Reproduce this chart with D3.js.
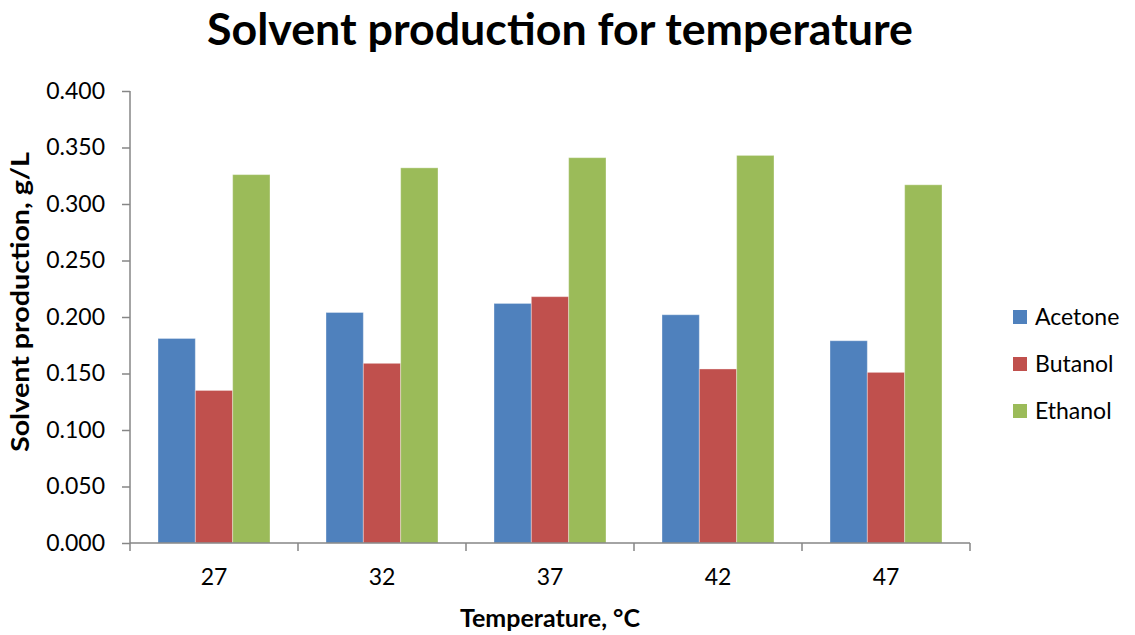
<!DOCTYPE html>
<html>
<head>
<meta charset="utf-8">
<script src="https://cdn.jsdelivr.net/npm/d3@7"></script>
<style>
  body { margin: 0; background: #fff; }
  text { font-family: Lato, "Open Sans", sans-serif; fill: #000; }
</style>
</head>
<body>
<div id="chart"></div>
<script>
// chart data
var temperatures = ["27", "32", "37", "42", "47"];
var seriesNames = ["Acetone", "Butanol", "Ethanol"];
var acetone = [0.181, 0.204, 0.212, 0.202, 0.179];
var butanol = [0.135, 0.159, 0.218, 0.154, 0.151];
var ethanol = [0.326, 0.332, 0.341, 0.343, 0.317];
var yTicks = [0, 0.05, 0.1, 0.15, 0.2, 0.25, 0.3, 0.35, 0.4];
var colors = ["#4F81BD", "#C0504D", "#9BBB59"];

var width = 1135, height = 635;
var margin = {top: 91, right: 165, bottom: 92, left: 130};
var plotW = width - margin.left - margin.right;
var plotH = height - margin.top - margin.bottom;

var table = temperatures.map(function(t, i) {
	return {temp: t, values: [acetone[i], butanol[i], ethanol[i]]};
});

var svg = d3.select("#chart").append("svg")
	.attr("width", width)
	.attr("height", height);

var g = svg.append("g")
	.attr("transform", "translate(" + margin.left + "," + margin.top + ")");

var x = d3.scaleBand()
	.domain(temperatures)
	.range([0, plotW])
	.paddingInner(0)
	.paddingOuter(0);

// excel style: gap width 50% of a bar on each side
var x1 = d3.scaleBand()
	.domain(seriesNames)
	.range([0, x.bandwidth() * 3 / 4.5]);

var y = d3.scaleLinear()
	.domain([0, 0.4])
	.range([plotH, 0]);

// bars
var groups = g.selectAll(".grp")
	.data(table)
	.enter().append("g")
	.attr("class", "grp")
	.attr("transform", function(d) {
		return "translate(" + (x(d.temp) + x.bandwidth() * 0.75 / 4.5) + ",0)";
	});

groups.selectAll("rect")
	.data(function(d) {
		return d.values.map(function(v, k) { return {name: seriesNames[k], v: v, k: k}; });
	})
	.enter().append("rect")
	.attr("x", function(d) { return x1(d.name); })
	.attr("y", function(d) { return y(d.v); })
	.attr("width", x1.bandwidth())
	.attr("height", function(d) { return plotH - y(d.v); })
	.style("fill", function(d) { return colors[d.k]; })
	.style("stroke", "rgba(255,255,255,0.35)")
	.style("stroke-width", 1);

// y axis
var yAxis = g.append("g")
	.attr("class", "y axis")
	.call(d3.axisLeft(y).tickValues(yTicks).tickFormat(d3.format(".3f")).tickSize(8).tickPadding(17));

// x axis
var xAxis = g.append("g")
	.attr("class", "x axis")
	.attr("transform", "translate(0," + plotH + ")")
	.call(d3.axisBottom(x).tickSize(0).tickPadding(26));

// x ticks sit between categories
xAxis.selectAll(".sep")
	.data(d3.range(temperatures.length + 1))
	.enter().append("line")
	.attr("class", "sep")
	.attr("x1", function(i) { return i * x.step(); })
	.attr("x2", function(i) { return i * x.step(); })
	.attr("y1", 0)
	.attr("y2", 8);

svg.selectAll(".axis path, .axis line")
	.style("stroke", "#868686")
	.style("stroke-width", 1.5);
svg.selectAll(".axis .domain").attr("d", null);
yAxis.append("line").attr("y1", 0).attr("y2", plotH).style("stroke", "#868686").style("stroke-width", 1.5);
xAxis.append("line").attr("x1", 0).attr("x2", plotW).style("stroke", "#868686").style("stroke-width", 1.5);

svg.selectAll(".axis text")
	.style("font-family", "Lato, sans-serif")
	.style("font-size", "23px")
	.style("fill", "#000");

// titles
svg.append("text")
	.attr("x", 560)
	.attr("y", 45)
	.attr("text-anchor", "middle")
	.attr("textLength", 706)
	.attr("lengthAdjust", "spacingAndGlyphs")
	.style("font-size", "44px")
	.style("font-weight", "bold")
	.text("Solvent production for temperature");

svg.append("text")
	.attr("transform", "translate(29,302) rotate(-90)")
	.attr("text-anchor", "middle")
	.attr("textLength", 300)
	.attr("lengthAdjust", "spacingAndGlyphs")
	.style("font-size", "24px")
	.style("font-weight", "bold")
	.text("Solvent production, g/L");

svg.append("text")
	.attr("x", 550)
	.attr("y", 627)
	.attr("text-anchor", "middle")
	.attr("textLength", 180)
	.attr("lengthAdjust", "spacingAndGlyphs")
	.style("font-size", "24px")
	.style("font-weight", "bold")
	.text("Temperature, °C");

// legend
var legend = svg.append("g")
	.attr("transform", "translate(1013,317)");

var items = legend.selectAll(".item")
	.data(seriesNames)
	.enter().append("g")
	.attr("class", "item")
	.attr("transform", function(d, i) { return "translate(0," + (i * 47) + ")"; });

items.append("rect")
	.attr("x", 0)
	.attr("y", -7)
	.attr("width", 14)
	.attr("height", 14)
	.style("fill", function(d, i) { return colors[i]; });

items.append("text")
	.attr("x", 22)
	.attr("y", 8)
	.style("font-size", "23px")
	.text(function(d) { return d; });
</script>
</body>
</html>
